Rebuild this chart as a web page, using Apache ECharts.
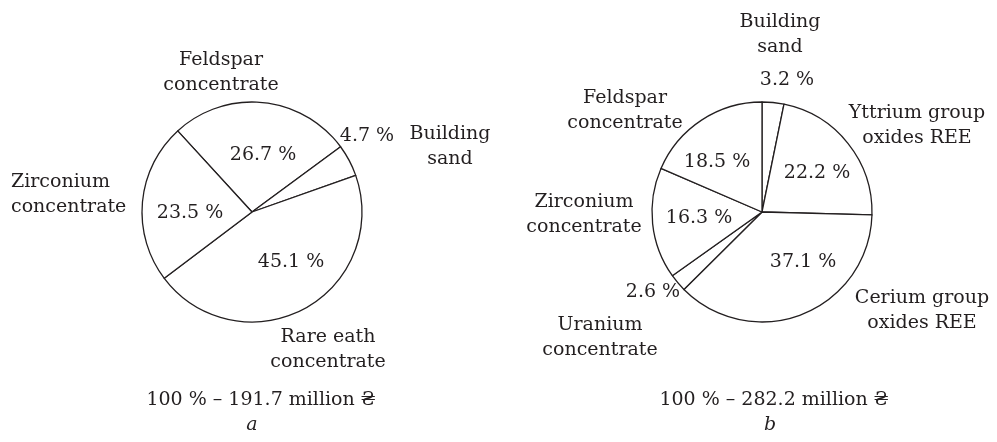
<!DOCTYPE html>
<html>
<head>
<meta charset="utf-8">
<script src="https://cdn.jsdelivr.net/npm/echarts@6/dist/echarts.min.js"></script>
<style>html,body{margin:0;padding:0;background:#fff}#c{width:997px;height:442px}</style>
</head>
<body>
<div id="c"></div>
<script>
// ---- data ----
const namesA = ['Feldspar\nconcentrate', 'Building\nsand', 'Rare eath\nconcentrate', 'Zirconium\nconcentrate'];
const valuesA = [26.7, 4.7, 45.1, 23.5];
const totalA = '100 % \u2013 191.7 million \u20B4';
const letterA = 'a';

const namesB = ['Building\nsand', 'Yttrium group\noxides REE', 'Cerium group\noxides REE', 'Uranium\nconcentrate', 'Zirconium\nconcentrate', 'Feldspar\nconcentrate'];
const valuesB = [3.2, 22.2, 37.1, 2.6, 16.3, 18.5];
const totalB = '100 % \u2013 282.2 million \u20B4';
const letterB = 'b';

// ---- layout (label anchors) ----
const pctPosA = [[263, 155], [367, 136], [291, 262], [190, 213]];
const namePosA = [[221, 73, 'center'], [450, 147, 'center'], [328, 350, 'center'], [11, 195, 'left']];
const pctPosB = [[787, 80], [817, 173], [803, 262], [653, 292], [699, 218], [717, 162]];
const namePosB = [[780, 35, 'center'], [917, 126, 'center'], [922, 311, 'center'], [600, 338, 'center'], [584, 215, 'center'], [625, 111, 'center']];

const FONT = 'DejaVu Serif';
const TXT = '#231f20';

function mk(names, values) {
  return names.map((n, i) => ({ name: n, value: values[i] }));
}

function pieSeries(names, values, center, radius, startAngle, pctPos, namePos) {
  const data = mk(names, values);
  return [
    {
      type: 'pie', center: center, radius: radius, startAngle: startAngle, clockwise: true,
      animation: false, silent: true,
      emphasis: { disabled: true },
      itemStyle: { color: '#ffffff', borderColor: '#231f20', borderWidth: 1.3 },
      label: { show: true, position: 'inside', formatter: '{c} %', fontFamily: FONT, fontSize: 19, color: TXT },
      labelLine: { show: false },
      labelLayout: function (p) { const q = pctPos[p.dataIndex]; return { x: q[0], y: q[1], align: 'center', verticalAlign: 'middle' }; },
      data: data
    },
    {
      type: 'pie', center: center, radius: radius, startAngle: startAngle, clockwise: true,
      animation: false, silent: true, z: 3,
      emphasis: { disabled: true },
      itemStyle: { color: 'rgba(0,0,0,0)', borderWidth: 0 },
      label: { show: true, position: 'inside', formatter: '{b}', fontFamily: FONT, fontSize: 19, lineHeight: 25, color: TXT },
      labelLine: { show: false },
      labelLayout: function (p) { const q = namePos[p.dataIndex]; return { x: q[0], y: q[1], align: q[2], verticalAlign: 'middle' }; },
      data: data
    }
  ];
}

const chart = echarts.init(document.getElementById('c'), null, { renderer: 'canvas' });
chart.setOption({
  backgroundColor: '#ffffff',
  animation: false,
  series: [].concat(
    pieSeries(namesA, valuesA, [252, 212], 110, 132.5, pctPosA, namePosA),
    pieSeries(namesB, valuesB, [762, 212], 110, 90, pctPosB, namePosB)
  ),
  graphic: [
    { type: 'text', x: 261, y: 400, style: { text: totalA, fontFamily: FONT, fontSize: 19, fill: TXT, align: 'center', verticalAlign: 'middle' } },
    { type: 'text', x: 252, y: 425, style: { text: letterA, fontFamily: FONT, fontStyle: 'italic', fontSize: 19, fill: TXT, align: 'center', verticalAlign: 'middle' } },
    { type: 'text', x: 774, y: 400, style: { text: totalB, fontFamily: FONT, fontSize: 19, fill: TXT, align: 'center', verticalAlign: 'middle' } },
    { type: 'text', x: 770, y: 425, style: { text: letterB, fontFamily: FONT, fontStyle: 'italic', fontSize: 19, fill: TXT, align: 'center', verticalAlign: 'middle' } }
  ]
});
</script>
</body>
</html>
